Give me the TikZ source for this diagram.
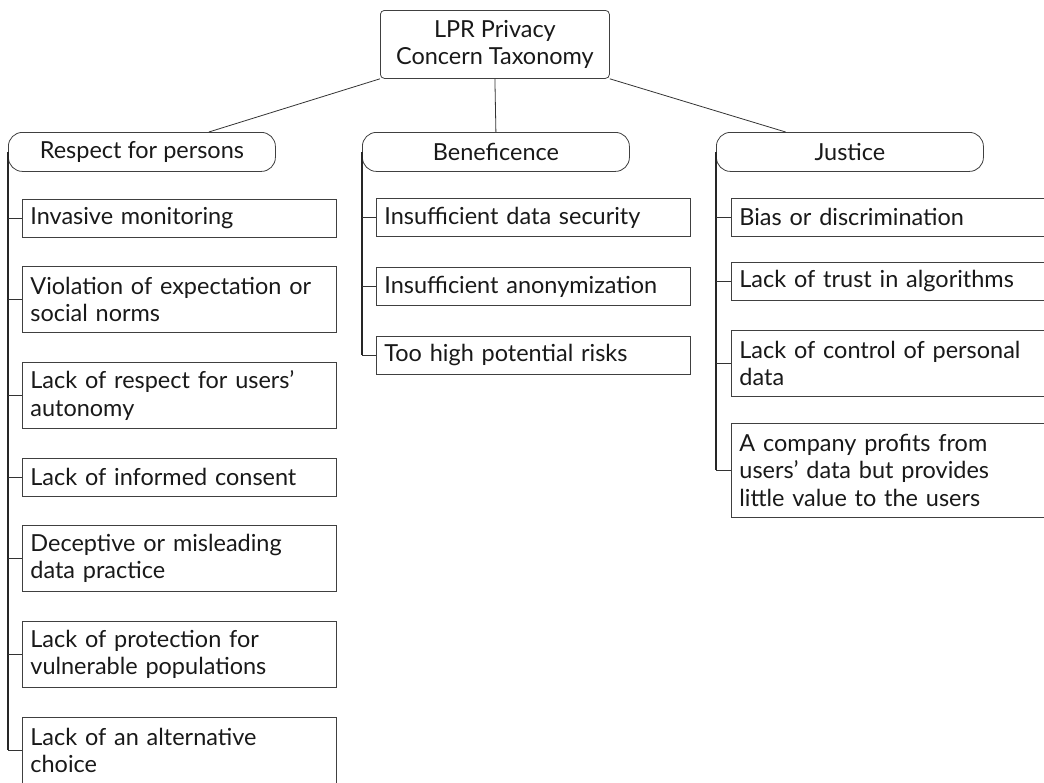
\documentclass[tikz,border=0pt]{standalone}
\usepackage{fontspec}
\setmainfont{Lato}
\usetikzlibrary{calc}
\begin{document}
\begin{tikzpicture}[x=0.75pt,y=-0.75pt,
  every node/.style={font=\fontsize{17.6}{20.6}\selectfont, text=black!90},
  rootbox/.style={draw=black!75, line width=0.6pt, rounded corners=3pt, minimum width=171.75pt, minimum height=51pt, align=center, anchor=north west, inner sep=0pt},
  catbox/.style={draw=black!75, line width=0.6pt, rounded corners=10.5pt, minimum width=200.25pt, minimum height=29.25pt, anchor=north west, inner sep=0pt},
  leafbox/.style={draw=black!75, line width=0.6pt, text width=223.5pt, inner xsep=6pt, inner ysep=0pt, align=left, anchor=north west},
  hA/.style={minimum height=28.5pt},
  hB/.style={minimum height=49.5pt},
  hC/.style={minimum height=70.5pt},
  link/.style={draw=black!80, line width=0.6pt},
  trunk/.style={draw=black!85, line width=0.9pt},
]
\useasboundingbox (0,0) rectangle (1044,782);
\clip (0,0) rectangle (1044,782);

\node[rootbox] (root) at (380,10) {LPR Privacy\\Concern Taxonomy};

\node[catbox] (resp) at (8,132) {Respect for persons};
\node[catbox] (bene) at (362,132) {Beneficence};
\node[catbox] (just) at (716,132) {Justice};

\draw[link] (root.south west) -- ($(resp.north west)!0.75!(resp.north east)$);
\draw[link] (root.south) -- (bene.north);
\draw[link] (root.south east) -- ($(just.north west)!0.26!(just.north east)$);

% Respect for persons
\node[leafbox,hA] (r1) at (22,199) {Invasive monitoring};
\node[leafbox,hB] (r2) at (22,266) {Violation of expectation or\\social norms};
\node[leafbox,hB] (r3) at (22,362) {Lack of respect for users'\\autonomy};
\node[leafbox,hA] (r4) at (22,458) {Lack of informed consent};
\node[leafbox,hB] (r5) at (22,525) {Deceptive or misleading\\data practice};
\node[leafbox,hB] (r6) at (22,621) {Lack of protection for\\vulnerable populations};
\node[leafbox,hB] (r7) at (22,717) {Lack of an alternative\\choice};

\draw[trunk] (resp.west) -- (resp.west |- r7.west);
\foreach \n in {r1,r2,r3,r4,r5,r6,r7}
  \draw[link] (resp.west |- \n.west) -- (\n.west);

% Beneficence
\node[leafbox,hA] (b1) at (376,198) {Insufficient data security};
\node[leafbox,hA] (b2) at (376,267) {Insufficient anonymization};
\node[leafbox,hA] (b3) at (376,336) {Too high potential risks};

\draw[trunk] (bene.west) -- (bene.west |- b3.west);
\foreach \n in {b1,b2,b3}
  \draw[link] (bene.west |- \n.west) -- (\n.west);

% Justice
\node[leafbox,hA] (j1) at (731,198) {Bias or discrimination};
\node[leafbox,hA] (j2) at (731,262) {Lack of trust in algorithms};
\node[leafbox,hB] (j3) at (731,330) {Lack of control of personal\\data};
\node[leafbox,hC] (j4) at (731,423) {A company profits from\\users' data but provides\\little value to the users};

\draw[trunk] (just.west) -- (just.west |- j4.west);
\foreach \n in {j1,j2,j3,j4}
  \draw[link] (just.west |- \n.west) -- (\n.west);
\end{tikzpicture}
\end{document}
